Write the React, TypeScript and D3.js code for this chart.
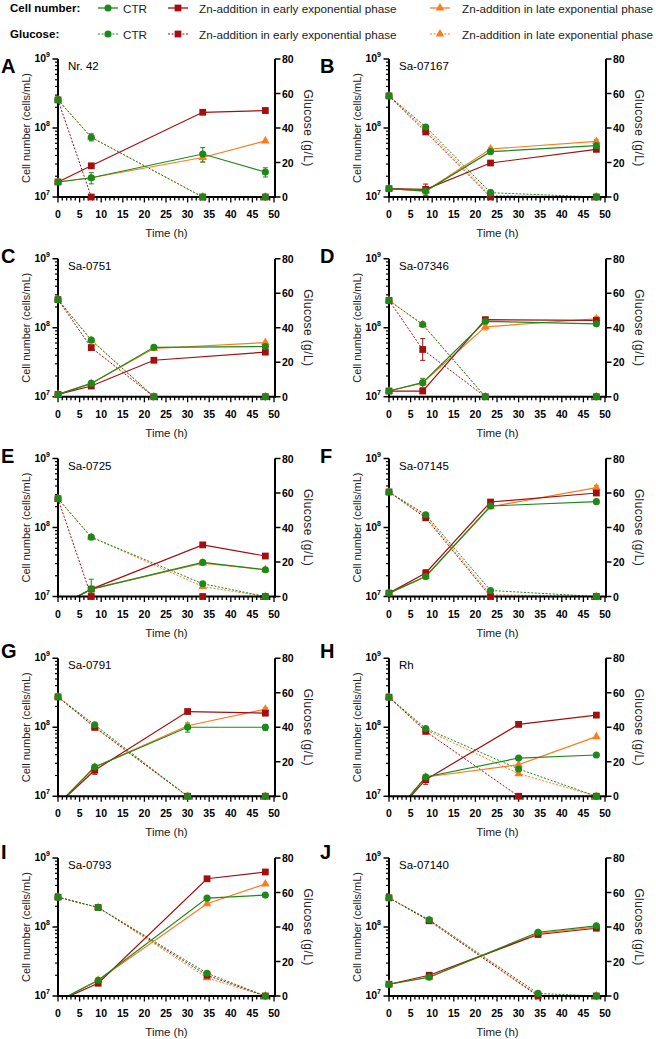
import React from 'react';
import * as d3 from 'd3';

// Panel identifiers and strain names
const panelLabels = ['A', 'B', 'C', 'D', 'E', 'F', 'G', 'H', 'I', 'J'];
const strainNames = ['Nr. 42', 'Sa-07167', 'Sa-0751', 'Sa-07346', 'Sa-0725', 'Sa-07145', 'Sa-0791', 'Rh', 'Sa-0793', 'Sa-07140'];

// Sampling times (h) per strain
const sampleTimes = [
  [0, 7.7, 33.5, 48], [0, 8.5, 23.5, 48],
  [0, 7.7, 22.2, 48], [0, 7.8, 22.3, 48],
  [0, 7.7, 33.5, 48], [0, 8.5, 23.5, 48],
  [0, 8.5, 30, 48], [0, 8.5, 30, 48],
  [0, 9.3, 34.5, 48], [0, 9.3, 34.5, 48],
];

// Cell number (cells/mL)
const cellCTR = [
  [1.65e7, 1.9e7, 4.2e7, 2.3e7], [1.32e7, 1.22e7, 4.54e7, 5.55e7],
  [1.08e7, 1.56e7, 5.2e7, 5.35e7], [1.21e7, 1.6e7, 1.24e8, 1.14e8],
  [7.1e6, 1.28e7, 3.12e7, 2.44e7], [1.12e7, 1.95e7, 2.05e8, 2.37e8],
  [7.6e6, 2.65e7, 1.0e8, 1.0e8], [4.5e6, 1.9e7, 3.58e7, 3.96e7],
  [8.4e6, 1.69e7, 2.62e8, 2.9e8], [1.48e7, 1.87e7, 8.4e7, 1.04e8],
];
const cellEarly = [
  [1.65e7, 2.83e7, 1.69e8, 1.79e8], [1.32e7, 1.29e7, 3.11e7, 4.9e7],
  [1.08e7, 1.43e7, 3.38e7, 4.43e7], [1.21e7, 1.21e7, 1.31e8, 1.28e8],
  [7.1e6, 1.28e7, 5.6e7, 3.86e7], [1.12e7, 2.19e7, 2.34e8, 3.16e8],
  [7.6e6, 2.38e7, 1.69e8, 1.6e8], [4.5e6, 1.74e7, 1.1e8, 1.5e8],
  [8.4e6, 1.53e7, 5.0e8, 6.27e8], [1.48e7, 2.0e7, 7.78e7, 9.6e7],
];
const cellLate = [
  [1.65e7, 1.9e7, 3.74e7, 6.5e7], [1.32e7, 1.22e7, 4.96e7, 6.4e7],
  [1.08e7, 1.56e7, 5.0e7, 6.1e7], [1.21e7, 1.6e7, 1.03e8, 1.35e8],
  [7.1e6, 1.28e7, 3.05e7, 2.44e7], [1.12e7, 1.95e7, 2.0e8, 3.78e8],
  [7.6e6, 2.65e7, 1.05e8, 1.83e8], [4.5e6, 1.9e7, 2.87e7, 7.3e7],
  [8.4e6, 1.69e7, 2.17e8, 4.19e8], [1.48e7, 1.87e7, 8.1e7, 1.0e8],
];

// Cell number standard deviations (cells/mL)
const cellCTRErr = [
  [0, 0.35e7, 1.0e7, 0.35e7], [0, 0.15e7, 0.2e7, 0],
  [0, 0.12e7, 0, 0], [0, 0.25e7, 0.1e8, 0],
  [0, 0.5e7, 0.1e7, 0], [0, 0.15e7, 0.1e8, 0],
  [0, 0.2e7, 0.15e8, 0.1e8], [0, 0.15e7, 0, 0],
  [0, 0.1e7, 0, 0], [0, 0, 0, 0],
];
const cellEarlyErr = [
  [0, 0, 0, 0.15e8], [0, 0.25e7, 0, 0],
  [0, 0, 0, 0], [0, 0, 0.1e8, 0.1e8],
  [0, 0, 0, 0], [0, 0.25e7, 0, 0],
  [0, 0.3e7, 0, 0], [0, 0.25e7, 0, 0],
  [0, 0, 0, 0], [0, 0, 0, 0],
];
const cellLateErr = [
  [0, 0, 0.5e7, 0], [0, 0, 0.3e7, 0.4e7],
  [0, 0, 0, 0], [0, 0, 0.1e8, 0.1e8],
  [0, 0, 0, 0], [0, 0, 0, 0.3e8],
  [0, 0, 0, 0.1e8], [0, 0, 0, 0],
  [0, 0, 0, 0], [0, 0, 0, 0],
];

// Glucose (g/L)
const glucoseCTR = [
  [56.3, 34.6, 0, 0], [58.6, 40.6, 2.5, 0],
  [56.3, 32.8, 0, 0], [55.8, 41.9, 0, 0],
  [56.7, 34.4, 7.4, 0], [60.6, 47.4, 3.5, 0],
  [57.6, 41.4, 0, 0], [57.4, 39.3, 15.8, 0],
  [57.3, 51.3, 13.2, 0], [56.9, 44.2, 1.5, 0],
];
const glucoseEarly = [
  [56.3, 0, 0, 0], [58.6, 37.7, 0, 0],
  [56.3, 28.5, 0, 0], [55.8, 27.4, 0, 0],
  [56.7, 0, 0, 0], [60.6, 45.6, 0, 0],
  [57.6, 39.9, 0, 0], [57.4, 37.6, 0, 0],
  [57.3, 51.3, 12, 0], [56.9, 43.6, 0, 0],
];
const glucoseLate = [
  [56.3, 34.6, 0, 0], [58.6, 39, 1, 0],
  [56.3, 32.8, 0, 0], [55.8, 41.9, 0, 0],
  [56.7, 34.4, 5.8, 0], [60.6, 46.6, 1, 0],
  [57.6, 40.5, 0, 0], [57.4, 38.5, 13.1, 0],
  [57.3, 51.3, 10.5, 0], [56.9, 43.9, 0.5, 0],
];
const glucoseCTRErr = [
  [0, 2.1, 0, 0], [0, 0, 1.5, 0],
  [0, 0, 0, 0], [0, 0, 0, 0],
  [0, 0, 0, 0], [0, 0, 0, 0],
  [0, 0, 0, 0], [0, 0, 0, 0],
  [0, 0, 0, 0], [0, 0, 0, 0],
];
const glucoseEarlyErr = [
  [0, 0, 0, 0], [0, 0, 0, 0],
  [0, 0, 0, 0], [0, 6.3, 0, 0],
  [0, 0, 0, 0], [0, 0, 0, 0],
  [0, 0, 0, 0], [0, 0, 0, 0],
  [0, 0, 0, 0], [0, 0, 0, 0],
];

const legendNames = ['CTR', 'Zn-addition in early exponential phase', 'Zn-addition in late exponential phase'];
const legendRows = ['Cell number:', 'Glucose:'];
const glucoseTicks = [0, 20, 40, 60, 80];
const timeTicks = [0, 5, 10, 15, 20, 25, 30, 35, 40, 45, 50];

const FONT = "Arial, 'Liberation Sans', sans-serif";
const GREEN = '#1b8a1b';
const RED = '#a50e0e';
const ORANGE = '#ff7a1f';

const symbolPath = (type: string) => {
  const t = type === 'circle' ? d3.symbolCircle : type === 'square' ? d3.symbolSquare : d3.symbolTriangle;
  const size = type === 'circle' ? 40 : type === 'square' ? 46 : 32;
  return d3.symbol().type(t).size(size)() as string;
};

const seriesDefs = [
  { key: 'late', color: ORANGE, shape: 'triangle', cell: cellLate, cellErr: cellLateErr, glu: glucoseLate, gluErr: null as any },
  { key: 'early', color: RED, shape: 'square', cell: cellEarly, cellErr: cellEarlyErr, glu: glucoseEarly, gluErr: glucoseEarlyErr },
  { key: 'ctr', color: GREEN, shape: 'circle', cell: cellCTR, cellErr: cellCTRErr, glu: glucoseCTR, gluErr: glucoseCTRErr },
];

const letterBaselines = [73, 263, 463, 658, 859];

function Panel({ i }: { i: number }) {
  const col = i % 2;
  const row = Math.floor(i / 2);
  const left = col ? 389 : 58;
  const plotW = 217;
  const top = 59 + row * 199.75;
  const plotH = 138;
  const bottom = top + plotH;
  const right = left + plotW;

  const x = d3.scaleLinear().domain([0, 50]).range([left, left + 216]);
  const yc = d3.scaleLog().domain([1e7, 1e9]).range([bottom, top]);
  const yg = d3.scaleLinear().domain([0, 80]).range([bottom, top]);

  const times = sampleTimes[i];
  const clipId = `clip-${i}`;

  const minorLog: number[] = [];
  [1e7, 1e8].forEach((dec) => {
    for (let k = 2; k <= 9; k++) minorLog.push(k * dec);
  });

  const cellLine = d3.line<number>().x((_, j) => x(times[j])).y((v) => yc(v));
  const gluLine = d3.line<number>().x((_, j) => x(times[j])).y((v) => yg(v));

  const errBar = (cx: number, y1: number, y2: number, color: string, key: string) => (
    <g key={key} stroke={color} strokeWidth={1} clipPath={`url(#${clipId})`}>
      <line x1={cx} x2={cx} y1={y1} y2={y2} />
      <line x1={cx - 2.5} x2={cx + 2.5} y1={y1} y2={y1} />
      <line x1={cx - 2.5} x2={cx + 2.5} y1={y2} y2={y2} />
    </g>
  );

  return (
    <g>
      <defs>
        <clipPath id={clipId}>
          <rect x={left - 6} y={top - 6} width={plotW + 12} height={plotH + 6.5} />
        </clipPath>
      </defs>

      {/* panel letter */}
      <text x={col ? 320 : 1} y={letterBaselines[row]} fontFamily={FONT} fontWeight="bold" fontSize={20}>
        {panelLabels[i]}
      </text>

      {/* strain name */}
      <text x={left + 10} y={top + 7} fontFamily={FONT} fontSize={11.5} dominantBaseline="central">
        {strainNames[i]}
      </text>

      {/* data: glucose (dashed) then cell number (solid) */}
      <g clipPath={`url(#${clipId})`} fill="none">
        {seriesDefs.map((s) => (
          <path key={`g-${s.key}`} d={gluLine(s.glu[i]) as string} stroke={s.color} strokeWidth={1} strokeDasharray="2,1.6" />
        ))}
        {seriesDefs.map((s) => (
          <path key={`c-${s.key}`} d={cellLine(s.cell[i]) as string} stroke={s.color} strokeWidth={1.2} />
        ))}
      </g>

      {/* axes */}
      <g stroke="#000" fill="none">
        <line x1={left} x2={left} y1={top} y2={bottom + 1} strokeWidth={2} />
        <line x1={right} x2={right} y1={top} y2={bottom + 1} strokeWidth={2} />
        <line x1={left - 1} x2={right + 1} y1={bottom} y2={bottom} strokeWidth={2} />
        {d3.range(0, 51, 1).map((t) => (
          <line key={`xt${t}`} x1={x(t)} x2={x(t)} y1={bottom} y2={bottom + (t % 5 === 0 ? 5.5 : 3.5)} strokeWidth={1.3} />
        ))}
        {[1e7, 1e8, 1e9].map((v) => (
          <line key={`yM${v}`} x1={left} x2={left - 5.5} y1={yc(v)} y2={yc(v)} strokeWidth={1.5} />
        ))}
        {minorLog.map((v) => (
          <line key={`ym${v}`} x1={left} x2={left - 3} y1={yc(v)} y2={yc(v)} strokeWidth={1.2} />
        ))}
        {glucoseTicks.map((v) => (
          <line key={`gt${v}`} x1={right} x2={right + 5.5} y1={yg(v)} y2={yg(v)} strokeWidth={1.5} />
        ))}
      </g>

      {/* tick labels */}
      <g fontFamily={FONT} fontWeight="bold" fontSize={10.5} fill="#000">
        {timeTicks.map((t) => (
          <text key={`xl${t}`} x={x(t)} y={bottom + 17} textAnchor="middle" dominantBaseline="central">{t}</text>
        ))}
        {[7, 8, 9].map((e) => (
          <text key={`yl${e}`} x={left - 8} y={yc(Math.pow(10, e)) + 3} textAnchor="end">
            <tspan>10</tspan>
            <tspan dy={-5} fontSize={7}>{e}</tspan>
          </text>
        ))}
        {glucoseTicks.map((v) => (
          <text key={`gl${v}`} x={right + 7} y={yg(v)} dominantBaseline="central">{v}</text>
        ))}
      </g>

      {/* axis titles */}
      <text
        transform={`translate(${left - 32},${(top + bottom) / 2}) rotate(-90)`}
        textAnchor="middle" dominantBaseline="central" fontFamily={FONT} fontSize={11} fill="#222"
      >
        Cell number (cells/mL)
      </text>
      <text
        transform={`translate(${right + 33},${(top + bottom) / 2}) rotate(90)`}
        textAnchor="middle" dominantBaseline="central" fontFamily={FONT} fontSize={12} letterSpacing={0.4} fill="#222"
      >
        Glucose (g/L)
      </text>
      <text x={(left + right) / 2} y={bottom + 36} textAnchor="middle" dominantBaseline="central" fontFamily={FONT} fontSize={11.5} fill="#222">
        Time (h)
      </text>

      {/* error bars */}
      {seriesDefs.map((s) => (
        <g key={`eb-${s.key}`}>
          {s.cell[i].map((v, j) => {
            const e = s.cellErr[i][j];
            if (!e) return null;
            return errBar(x(times[j]), yc(v + e), yc(Math.max(v - e, 1e6)), s.color, `ce${j}`);
          })}
          {s.gluErr && s.glu[i].map((v, j) => {
            const e = s.gluErr[i][j];
            if (!e) return null;
            return errBar(x(times[j]), yg(v + e), yg(Math.max(v - e, 0)), s.color, `ge${j}`);
          })}
        </g>
      ))}

      {/* markers */}
      {seriesDefs.map((s) => (
        <g key={`m-${s.key}`} fill={s.color}>
          {s.glu[i].map((v, j) => (
            <path key={`gm${j}`} d={symbolPath(s.shape)} transform={`translate(${x(times[j])},${yg(v)})`} />
          ))}
          {s.cell[i].map((v, j) =>
            v >= 1e7 ? (
              <path key={`cm${j}`} d={symbolPath(s.shape)} transform={`translate(${x(times[j])},${yc(v)})`} />
            ) : null
          )}
        </g>
      ))}
    </g>
  );
}

function Legend() {
  const symbolX = [108, 178, 440];
  const textX = [123, 199, 462];
  const rowsY = [8, 34];
  const colors = [GREEN, RED, ORANGE];
  const shapes = ['circle', 'square', 'triangle'];
  return (
    <g fontFamily={FONT}>
      {legendRows.map((label, r) => (
        <g key={label}>
          <text x={10} y={rowsY[r]} fontWeight="bold" fontSize={11.5} dominantBaseline="central">{label}</text>
          {legendNames.map((name, k) => (
            <g key={name}>
              <line
                x1={symbolX[k] - 10} x2={symbolX[k] + 10} y1={rowsY[r]} y2={rowsY[r]}
                stroke={colors[k]} strokeWidth={r === 0 ? 1.3 : 1.1} strokeDasharray={r === 0 ? undefined : '2,1.6'}
              />
              <path d={symbolPath(shapes[k])} fill={colors[k]} transform={`translate(${symbolX[k]},${rowsY[r]})`} />
              <text x={textX[k]} y={rowsY[r]} fontSize={11.7} dominantBaseline="central" fill="#222">{name}</text>
            </g>
          ))}
        </g>
      ))}
    </g>
  );
}

export default function App() {
  return (
    <svg
      width={656}
      height={1039}
      viewBox="0 0 656 1039"
      style={{ position: 'absolute', left: 0, top: 0, background: '#fff' }}
    >
      <rect width={656} height={1039} fill="#fff" />
      <Legend />
      {panelLabels.map((_, i) => (
        <Panel key={i} i={i} />
      ))}
    </svg>
  );
}
